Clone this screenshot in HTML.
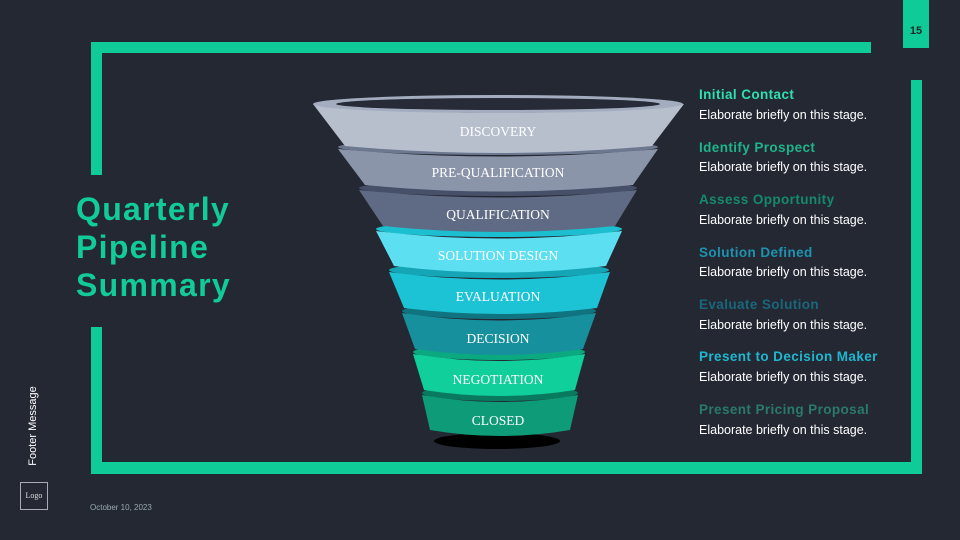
<!DOCTYPE html>
<html><head><meta charset="utf-8"><style>
html,body{margin:0;padding:0}
body{width:960px;height:540px;background:#242833;position:relative;overflow:hidden;font-family:"Liberation Sans",sans-serif}
.b{position:absolute;background:#0fcb98}
.h{position:absolute;left:699px;font-weight:bold;font-size:13.5px;letter-spacing:0.4px}
.d{position:absolute;left:699px;font-size:12.5px;color:#fff}
</style></head><body>
<div class="b" style="left:91px;top:42px;width:780px;height:11px"></div>
<div class="b" style="left:91px;top:42px;width:11px;height:133px"></div>
<div class="b" style="left:91px;top:327px;width:11px;height:147px"></div>
<div class="b" style="left:91px;top:462px;width:831px;height:12px"></div>
<div class="b" style="left:911px;top:80px;width:11px;height:394px"></div>
<div class="b" style="left:903px;top:0;width:26px;height:48px"></div>
<div style="position:absolute;left:903px;top:25px;width:26px;text-align:center;font-size:11px;font-weight:bold;color:#1c2a2a">15</div>

<div style="position:absolute;left:76px;top:190px;font-size:32px;font-weight:bold;color:#12cc97;line-height:38px;letter-spacing:1.3px">Quarterly<br>Pipeline<br>Summary</div>

<div style="position:absolute;left:-17px;top:420px;width:100px;transform:rotate(-90deg);font-size:11px;color:#fff;text-align:center">Footer Message</div>
<div style="position:absolute;left:20px;top:482px;width:26px;height:26px;border:1px solid #aab;font-family:'Liberation Serif',serif;font-size:8px;color:#ddd;text-align:center;line-height:26px">Logo</div>
<div style="position:absolute;left:90px;top:503px;font-size:8px;color:#9aa">October 10, 2023</div>

<svg width="960" height="540" style="position:absolute;left:0;top:0">
<ellipse cx="497" cy="441" rx="63" ry="8" fill="#000"/>
<g font-family="Liberation Serif,serif" font-size="13.5" fill="#fff" text-anchor="middle">
<ellipse cx="500" cy="393" rx="78" ry="8" fill="#0a7a5e"/>
<path d="M422 395 Q500 409 578 395 L570 430 Q500 442 430 430Z" fill="#0e9b78"/>
<text x="498" y="425">CLOSED</text>
<ellipse cx="499" cy="352" rx="86" ry="8" fill="#0aa97f"/>
<path d="M413 354 Q499 368 585 354 L575 390 Q499 402 424 390Z" fill="#10cf9b"/>
<text x="498" y="384">NEGOTIATION</text>
<ellipse cx="499" cy="311" rx="97" ry="8" fill="#0f7480"/>
<path d="M402 313 Q499 328 596 313 L583 349 Q499 361 415 349Z" fill="#17909e"/>
<text x="498" y="343">DECISION</text>
<ellipse cx="499" cy="270" rx="110" ry="8" fill="#14a5b6"/>
<path d="M389 272 Q499 287 610 272 L597 308 Q499 320 404 308Z" fill="#1cc3d5"/>
<text x="498" y="301">EVALUATION</text>
<ellipse cx="499" cy="229" rx="123" ry="8" fill="#1cbfcf"/>
<path d="M376 231 Q499 246 622 231 L606 266 Q499 279 394 266Z" fill="#5cdff0"/>
<text x="498" y="260">SOLUTION DESIGN</text>
<ellipse cx="498" cy="188" rx="139" ry="8" fill="#465169"/>
<path d="M359 190 Q498 205 637 190 L615 226 Q498 238 383 226Z" fill="#5f6b84"/>
<text x="498" y="219">QUALIFICATION</text>
<ellipse cx="498" cy="147" rx="160" ry="8" fill="#6c7790"/>
<path d="M338 149 Q498 164 658 149 L633 185 Q498 198 365 185Z" fill="#8b95aa"/>
<text x="498" y="177">PRE-QUALIFICATION</text>
<path d="M313 104 Q498 122 684 104 L652 146 Q498 160 345 146Z" fill="#b7bfcd"/>
<ellipse cx="498" cy="104" rx="185" ry="9" fill="#a4adbf"/>
<ellipse cx="498" cy="104" rx="162" ry="6" fill="#262b37"/>
<text x="498" y="136">DISCOVERY</text>
</g>
</svg>

<div class="h" style="top:87px;color:#2ee0b0">Initial Contact</div>
<div class="d" style="top:108px">Elaborate briefly on this stage.</div>
<div class="h" style="top:140px;color:#1fb48a">Identify Prospect</div>
<div class="d" style="top:160px">Elaborate briefly on this stage.</div>
<div class="h" style="top:192px;color:#158a6a">Assess Opportunity</div>
<div class="d" style="top:213px">Elaborate briefly on this stage.</div>
<div class="h" style="top:245px;color:#1d93b0">Solution Defined</div>
<div class="d" style="top:265px">Elaborate briefly on this stage.</div>
<div class="h" style="top:297px;color:#19677c">Evaluate Solution</div>
<div class="d" style="top:318px">Elaborate briefly on this stage.</div>
<div class="h" style="top:349px;color:#1fb7d0">Present to Decision Maker</div>
<div class="d" style="top:370px">Elaborate briefly on this stage.</div>
<div class="h" style="top:402px;color:#2a7a6a">Present Pricing Proposal</div>
<div class="d" style="top:423px">Elaborate briefly on this stage.</div>
</body></html>
